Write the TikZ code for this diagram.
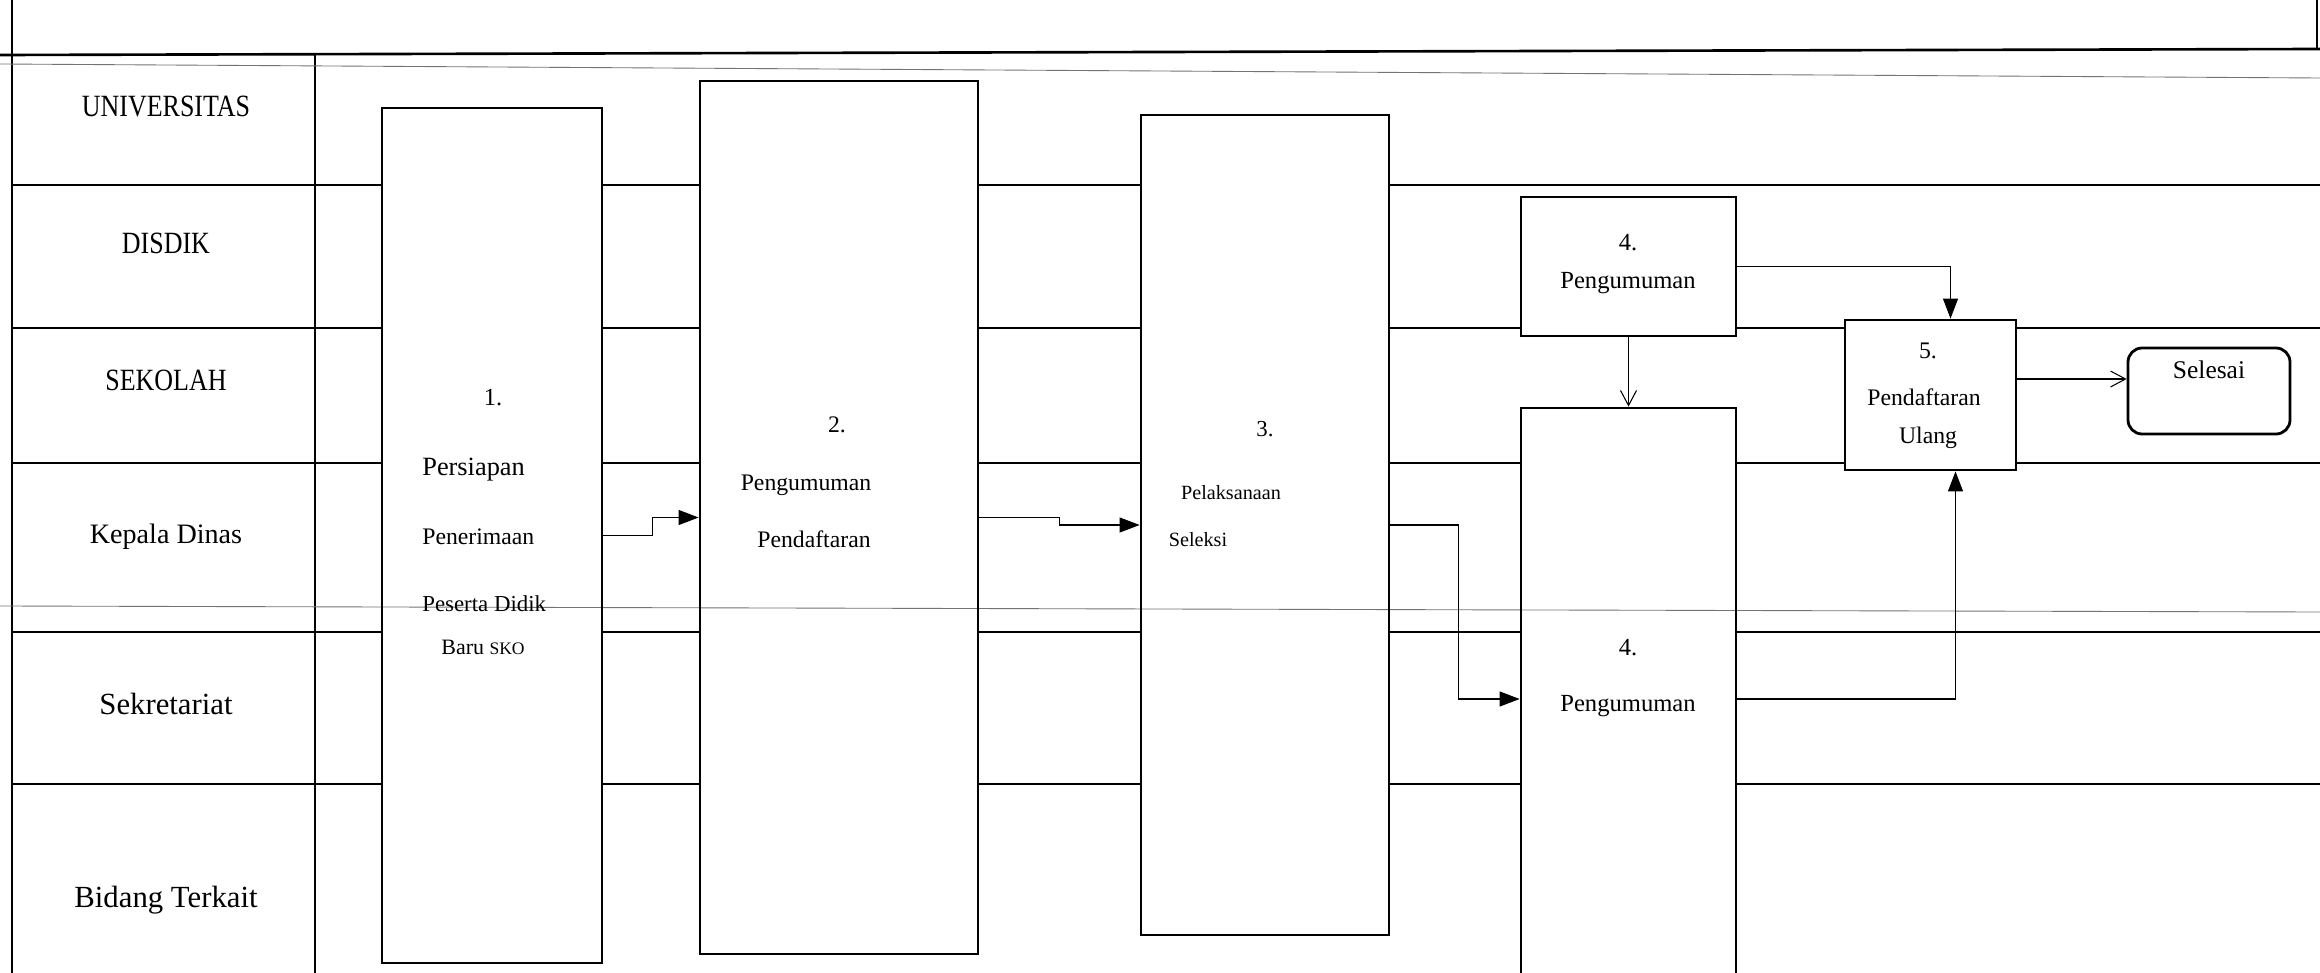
\documentclass[tikz,border=0pt]{standalone}
\usepackage{fontspec}
\setmainfont{Liberation Serif}
\newfontfamily\capsfont[FakeStretch=0.84]{Liberation Serif}
\usetikzlibrary{arrows.meta,positioning,calc,fit}
\newcommand{\txtsize}[1]{\fontsize{#1}{#1}\selectfont}

\begin{document}
\begin{tikzpicture}[
  x=0.02cm, y=-0.02cm,
  lane/.style={line width=1.5pt},
  frame/.style={line width=1.5pt},
  scan/.style={line width=0.5pt, black!55},
  box/.style={draw, line width=1.6pt, inner sep=0pt},
  endbox/.style={draw, line width=1.6pt, rounded corners=8pt, inner sep=0pt},
  lbl/.style={inner sep=0pt},
  arr/.style={-{Triangle[length=0.4cm,width=0.3cm]}, line width=0.6pt},
  opn/.style={-{Straight Barb[length=0.3cm,width=0.32cm]}, line width=0.6pt}
]
\useasboundingbox (0,0) rectangle (2320,973);

% frame and lane column
\draw[frame] (12,0) -- (12,973);
\draw[frame] (315,55) -- (315,973);
\draw[frame] (0,55) -- (2320,49);
\draw[frame] (2317,0) -- (2317,50);
\draw[scan] (0,64) -- (2320,78);
\draw[scan] (0,606) -- (2320,612);

\node[lbl, font=\capsfont\txtsize{17.6}] (univ) at (166,106) {UNIVERSITAS};
\node[lbl, font=\capsfont\txtsize{17.6}] (disdik) at (166,243) {DISDIK};
\node[lbl, font=\capsfont\txtsize{17.6}] (sekolah) at (166,380) {SEKOLAH};
\node[lbl, font=\txtsize{16}] (kadis) at (166,537) {Kepala Dinas};
\node[lbl, font=\txtsize{17.5}] (sekre) at (166,704) {Sekretariat};
\node[lbl, font=\txtsize{17.5}] (bidang) at (166,900) {Bidang Terkait};

% process boxes
\node[box, fit={(382,108) (602,963)}] (b1) {};
\node[box, fit={(700,81) (978,954)}] (b2) {};
\node[box, fit={(1141,115) (1389,935)}] (b3) {};
\node[box, fit={(1521,197) (1736,336)}] (b4a) {};
\node[box, fit={(1521,408) (1736,990)}] (b4b) {};
\node[box, fit={(1845,320) (2016,470)}] (b5) {};
\node[endbox, fit={(2128,348) (2290,434)}] (sel) {};

% texts in the boxes
\node[lbl, font=\txtsize{14}] (t1) at (493,398) {1.};
\node[lbl, font=\txtsize{15}, anchor=west] (t1a) at (422,470) {Persiapan};
\node[lbl, font=\txtsize{13.5}, anchor=west] (t1b) at (422,537) {Penerimaan};
\node[lbl, font=\txtsize{13}, anchor=west] (t1c) at (422,604) {Peserta Didik};
\node[lbl, font=\txtsize{12.5}, anchor=west] (t1d) at (441,647) {Baru {\txtsize{10}SKO}};
\node[lbl, font=\txtsize{13.5}] (t2) at (837,425) {2.};
\node[lbl, font=\txtsize{13.5}] (t2a) at (806,485) {Pengumuman};
\node[lbl, font=\txtsize{13.5}] (t2b) at (814,539) {Pendaftaran};
\node[lbl, font=\txtsize{13}] (t3) at (1265,429) {3.};
\node[lbl, font=\txtsize{11.5}] (t3a) at (1231,493) {Pelaksanaan};
\node[lbl, font=\txtsize{11.5}] (t3b) at (1198,540) {Seleksi};
\node[lbl, font=\txtsize{14}] (t4) at (1628,243) {4.};
\node[lbl, font=\txtsize{14}] (t4a) at (1628,283) {Pengumuman};
\node[lbl, font=\txtsize{14}] (t4b) at (1628,648) {4.};
\node[lbl, font=\txtsize{14}] (t4c) at (1628,706) {Pengumuman};
\node[lbl, font=\txtsize{13.5}] (t5) at (1928,351) {5.};
\node[lbl, font=\txtsize{13.5}] (t5a) at (1924,397) {Pendaftaran};
\node[lbl, font=\txtsize{13.5}] (t5b) at (1928,438) {Ulang};
\node[lbl, font=\txtsize{14.5}] (tsel) at (2209,370) {Selesai};

% lane lines between the boxes
\foreach \y in {185,328,463,632,784}
  \draw[lane] (12,\y) -- (382,\y) (602,\y) -- (700,\y) (978,\y) -- (1141,\y);
\draw[lane] (1389,185) -- (2320,185);
\foreach \y in {328,463}
  \draw[lane] (1389,\y) -- (1521,\y) (1736,\y) -- (1845,\y) (2016,\y) -- (2320,\y);
\foreach \y in {632,784}
  \draw[lane] (1389,\y) -- (1521,\y) (1736,\y) -- (2320,\y);

% flow
\draw[arr] (b1.east) -- ++(49,0) |- (b2.west);
\draw[arr] (b2.east) -- ++(80,0) |- (b3.west);
\draw[arr] (b3.east) -- ++(68,0) |- (b4b.west);
\draw[opn] (b4a.south) -- (b4b.north);
\draw[arr] (b4a.east) -| ([xshift=0.4cm]b5.north);
\draw[arr] (b4b.east) -| ([xshift=0.5cm]b5.south);
\draw[opn] ($(b5.east)+(0,-16)$) coordinate (fin) -- (fin -| sel.west);
\end{tikzpicture}
\end{document}
